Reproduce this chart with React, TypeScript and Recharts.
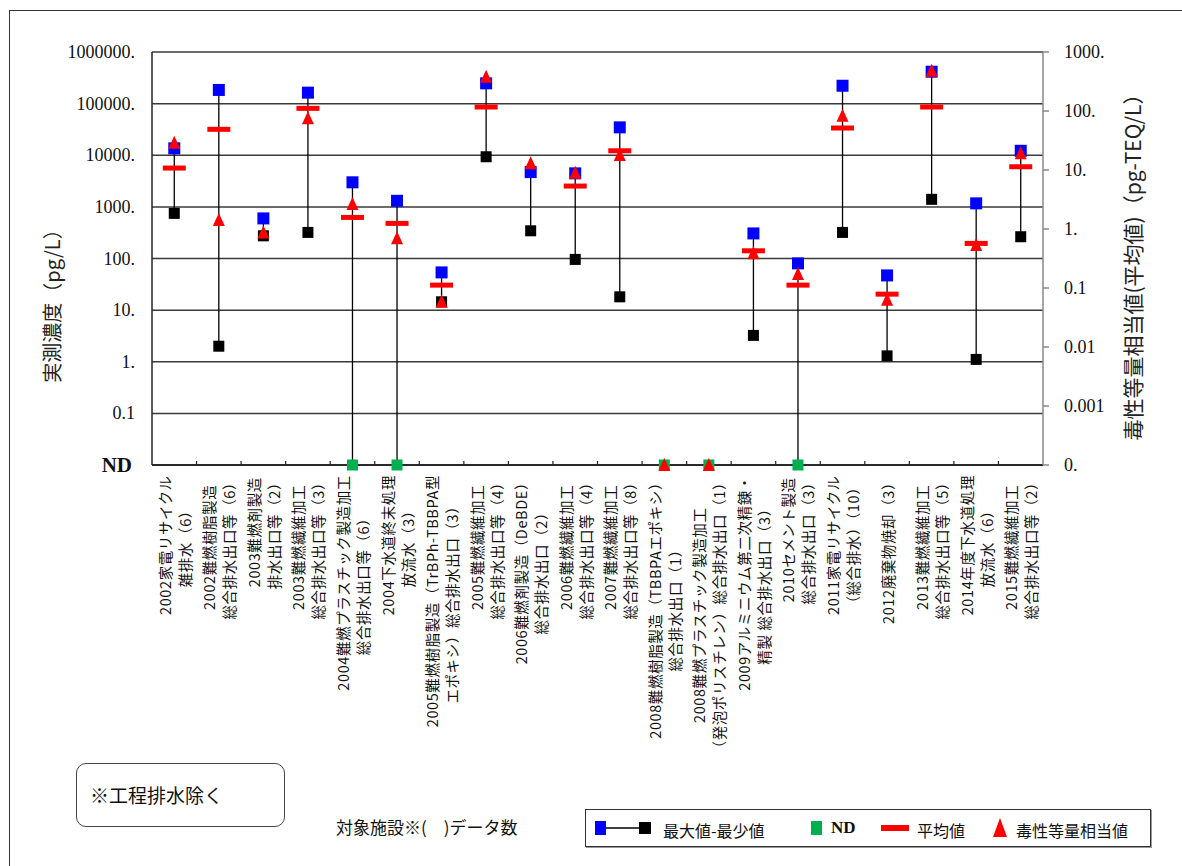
import React from 'react';
import { ComposedChart, Scatter, XAxis, YAxis, CartesianGrid, ErrorBar } from 'recharts';

// 対象施設（2行ラベル）
const labelTop = [
  '2002家電リサイクル',
  '2002難燃樹脂製造',
  '2003難燃剤製造',
  '2003難燃繊維加工',
  '2004難燃プラスチック製造加工',
  '2004下水道終末処理',
  '2005難燃樹脂製造（TrBPh-TBBPA型',
  '2005難燃繊維加工',
  '2006難燃剤製造（DeBDE）',
  '2006難燃繊維加工',
  '2007難燃繊維加工',
  '2008難燃樹脂製造（TBBPAエポキシ）',
  '2008難燃プラスチック製造加工',
  '2009アルミニウム第二次精錬・',
  '2010セメント製造',
  '2011家電リサイクル',
  '2012廃棄物焼却（3）',
  '2013難燃繊維加工',
  '2014年度下水道処理',
  '2015難燃繊維加工',
];
const labelBottom = [
  '雑排水（6）',
  '総合排水出口等（6）',
  '排水出口等（2）',
  '総合排水出口等（3）',
  '総合排水出口等（6）',
  '放流水（3）',
  'エポキシ）総合排水出口（3）',
  '総合排水出口等（4）',
  '総合排水出口（2）',
  '総合排水出口等（4）',
  '総合排水出口等（8）',
  '総合排水出口（1）',
  '（発泡ポリスチレン）総合排水出口（1）',
  '精製 総合排水出口（3）',
  '総合排水出口（3）',
  '（総合排水）（10）',
  '',
  '総合排水出口等（5）',
  '放流水（6）',
  '総合排水出口等（2）',
];

// pg/L, null = ND
const maxValues = [13600, 184000, 598, 163000, 2990, 1310, 53.8, 247000, 4720, 4460, 34700, null, null, 306, 80.4, 222000, 47, 415000, 1170, 12200];
const minValues = [748, 2.0, 275, 320, null, null, 14.5, 9350, 344, 96, 18.1, null, null, 3.24, null, 320, 1.3, 1400, 1.11, 264];
const meanValues = [5650, 31800, null, 81000, 625, 479, 30.5, 86000, null, 2530, 12200, null, null, 141, 30.5, 33700, 20.4, 86000, 196, 5990];
// pg-TEQ/L (平均値), 0 = "0."
const teqValues = [29, 1.42, 0.87, 75, 2.65, 0.7, 0.0586, 382, 13, 9.0, 18, 0, 0, 0.39, 0.173, 83, 0.063, 482, 0.535, 19.2];

const leftTicks = [0.01, 0.1, 1, 10, 100, 1000, 10000, 100000, 1000000];
const rightTicks = [0.0001, 0.001, 0.01, 0.1, 1, 10, 100, 1000];

const ND = 0.01;
const TEQ_ZERO = 0.0001;
const JP = '"Noto Sans CJK JP", sans-serif';
const SERIF = '"Liberation Serif", serif';
const LABEL_SIZE = 14.5;
const LABEL_SPACING = 0.6;

const rows = labelTop.map((_, i) => {
  const max = maxValues[i];
  const min = minValues[i];
  const lo = min ?? ND;
  return {
    x: i + 0.5,
    max: max ?? undefined,
    min: min ?? undefined,
    nd: min == null ? ND : undefined,
    mean: meanValues[i] ?? undefined,
    teq: teqValues[i] === 0 ? TEQ_ZERO : teqValues[i],
    err: max != null ? [max - lo, 0] : [0, 0],
  };
});

const xTicks: number[] = [];
labelTop.forEach((_, i) => xTicks.push(i, i + 0.5));
xTicks.push(labelTop.length);

let ctx: CanvasRenderingContext2D | null = null;
const measure = (s: string) => {
  if (!ctx) ctx = document.createElement('canvas').getContext('2d');
  if (!ctx) return s.length * 14;
  ctx.font = `${LABEL_SIZE}px ${JP}`;
  return ctx.measureText(s).width + s.length * LABEL_SPACING;
};

const fmtLeft = (v: number) => (v === ND ? 'ND' : v < 1 ? String(v) : `${v}.`);
const fmtRight = (v: number) => (v === TEQ_ZERO ? '0.' : v < 1 ? String(v) : `${v}.`);

const ok = (p: any) => Number.isFinite(p.cx) && Number.isFinite(p.cy);
const square = (color: string, size: number) => (p: any) =>
  ok(p) ? <rect x={p.cx - size / 2} y={p.cy - size / 2} width={size} height={size} fill={color} /> : <g />;
const dash = (p: any) =>
  ok(p) ? <rect x={p.cx - 11.5} y={p.cy - 2.5} width={23} height={5} fill="#FF0000" /> : <g />;
const triangle = (p: any) =>
  ok(p) ? (
    <polygon points={`${p.cx},${p.cy - 7} ${p.cx - 6},${p.cy + 6} ${p.cx + 6},${p.cy + 6}`} fill="#FF0000" />
  ) : (
    <g />
  );

const XTick = (props: any) => {
  const { x, y, payload } = props;
  const v = payload.value as number;
  if (Number.isInteger(v)) {
    if (v <= 0 || v >= labelTop.length) return <g />;
    return <line x1={x} x2={x} y1={y - 4} y2={y} stroke="#222" strokeWidth={1.2} />;
  }
  const i = Math.floor(v);
  const lines = [labelTop[i], labelBottom[i]].filter(Boolean);
  const block = Math.max(...lines.map(measure));
  const cy = y + 10 + block / 2;
  const offs = lines.length === 1 ? [0] : [-10, 10];
  return (
    <g>
      {lines.map((s, k) => (
        <text
          key={k}
          x={x + offs[k]}
          y={cy}
          transform={`rotate(-90 ${x + offs[k]} ${cy})`}
          textAnchor="middle"
          dominantBaseline="central"
          fontFamily={JP}
          fontSize={LABEL_SIZE}
          letterSpacing={LABEL_SPACING}
          fill="#111"
        >
          {s}
        </text>
      ))}
    </g>
  );
};

const LeftTick = ({ x, y, payload }: any) => {
  const isND = payload.value === ND;
  return (
    <text
      x={isND ? x - 3 : x}
      y={y}
      textAnchor="end"
      dominantBaseline="central"
      style={{ fontFamily: SERIF }}
      fontSize={isND ? 21 : 18}
      fontWeight={isND ? 'bold' : 'normal'}
      fill="#111"
    >
      {fmtLeft(payload.value)}
    </text>
  );
};

const RightTick = ({ x, y, payload }: any) => (
  <text x={x} y={y} textAnchor="start" dominantBaseline="central" style={{ fontFamily: SERIF }} fontSize={18} fill="#111">
    {fmtRight(payload.value)}
  </text>
);

const legendText: React.CSSProperties = { fontFamily: JP, fontSize: 16, color: '#111', position: 'absolute', top: 8, whiteSpace: 'nowrap' };

export default function App() {
  return (
    <div style={{ position: 'absolute', left: 0, top: 0, width: 1182, height: 866, background: '#fff', overflow: 'hidden' }}>
      <div style={{ position: 'absolute', left: 9, top: 10, width: 1300, height: 1000, borderLeft: '1.5px solid #333', borderTop: '1.5px solid #333' }} />
      <div style={{ position: 'absolute', left: 0, top: 0 }}>
        <ComposedChart width={1182} height={866} data={rows} margin={{ top: 52, right: 39, bottom: 101, left: 52 }}>
          <CartesianGrid yAxisId="l" vertical={false} stroke="#3a3a3a" strokeWidth={1.5} />
          <XAxis
            type="number"
            dataKey="x"
            domain={[0, labelTop.length]}
            ticks={xTicks}
            interval={0}
            tickLine={false}
            tickSize={0}
            tickMargin={0}
            height={300}
            axisLine={{ stroke: '#222', strokeWidth: 1.5 }}
            tick={<XTick />}
          />
          <YAxis
            yAxisId="l"
            type="number"
            scale="log"
            domain={[ND, 1000000]}
            ticks={leftTicks}
            interval={0}
            width={100}
            tickLine={false}
            tickSize={0}
            tickMargin={17}
            axisLine={{ stroke: '#222', strokeWidth: 1.5 }}
            tick={<LeftTick />}
            label={{
              content: () => (
                <text transform="translate(51 301) rotate(-90)" textAnchor="middle" dominantBaseline="central" fontFamily={JP} fontSize={20} fill="#222">
                  実測濃度（pg/L）
                </text>
              ),
            }}
          />
          <YAxis
            yAxisId="r"
            orientation="right"
            type="number"
            scale="log"
            domain={[TEQ_ZERO, 1000]}
            ticks={rightTicks}
            interval={0}
            width={100}
            tickSize={6}
            tickMargin={15}
            tickLine={{ stroke: '#888', strokeWidth: 1.5 }}
            axisLine={{ stroke: '#888', strokeWidth: 1.5 }}
            tick={<RightTick />}
            label={{
              content: () => (
                <text transform="translate(1132 262) rotate(-90)" textAnchor="middle" dominantBaseline="central" fontFamily={JP} fontSize={21} fill="#222">
                  毒性等量相当値(平均値)（pg-TEQ/L）
                </text>
              ),
            }}
          />
          <Scatter yAxisId="l" dataKey="max" shape={square('#0000FF', 12)} isAnimationActive={false}>
            <ErrorBar dataKey="err" direction="y" width={0} stroke="#000" strokeWidth={1.3} isAnimationActive={false} />
          </Scatter>
          <Scatter yAxisId="l" dataKey="nd" shape={square('#00B050', 11)} isAnimationActive={false} />
          <Scatter yAxisId="l" dataKey="min" shape={square('#000000', 11)} isAnimationActive={false} />
          <Scatter yAxisId="l" dataKey="mean" shape={dash} isAnimationActive={false} />
          <Scatter yAxisId="r" dataKey="teq" shape={triangle} isAnimationActive={false} />
        </ComposedChart>
      </div>

      <div style={{ position: 'absolute', left: 76, top: 763, width: 207, height: 62, border: '1.5px solid #444', borderRadius: 10 }}>
        <div style={{ position: 'absolute', left: 13, top: 17, fontFamily: JP, fontSize: 19, color: '#111', whiteSpace: 'nowrap' }}>※工程排水除く</div>
      </div>

      <div style={{ position: 'absolute', left: 336, top: 814, fontFamily: JP, fontSize: 17, color: '#111', whiteSpace: 'nowrap' }}>
        対象施設※(　)データ数
      </div>

      <div style={{ position: 'absolute', left: 585, top: 809, width: 564, height: 36, border: '1.5px solid #333', boxShadow: '1px 1px 0 #999' }}>
        <svg width={564} height={36} style={{ position: 'absolute', left: 0, top: 0 }}>
          <line x1={14} x2={60} y1={18} y2={18} stroke="#000" strokeWidth={1.3} />
          <rect x={9} y={11} width={11} height={14} fill="#0000FF" />
          <rect x={53} y={12} width={12} height={12} fill="#000" />
          <rect x={225} y={11} width={11} height={14} fill="#00B050" />
          <rect x={295} y={15} width={28} height={6} fill="#FF0000" />
          <polygon points="414,8 407,27 421,27" fill="#FF0000" />
        </svg>
        <span style={{ ...legendText, left: 77 }}>最大値-最少値</span>
        <span style={{ ...legendText, left: 245, fontFamily: SERIF, fontWeight: 'bold', fontSize: 17 }}>ND</span>
        <span style={{ ...legendText, left: 331 }}>平均値</span>
        <span style={{ ...legendText, left: 430 }}>毒性等量相当値</span>
      </div>
    </div>
  );
}
